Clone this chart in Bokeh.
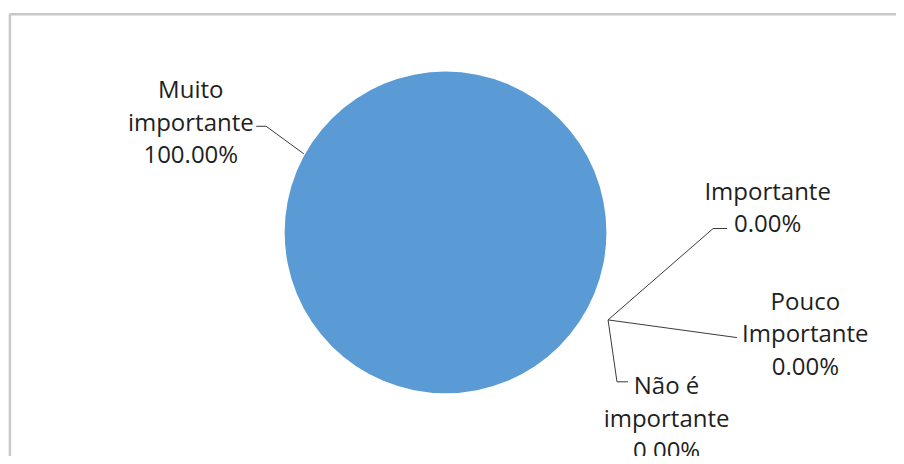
import numpy as np
from bokeh.plotting import figure
from bokeh.models import Range1d
from bokeh.embed import file_html
from bokeh.resources import INLINE
from bokeh.core.properties import value

# ---- data ----
categories = ["Muito importante", "Importante", "Pouco Importante", "Não é importante"]
values = [100.0, 0.0, 0.0, 0.0]
label_lines = [["Muito", "importante"], ["Importante"], ["Pouco", "Importante"], ["Não é", "importante"]]
pie_color = "#5B9BD5"

# ---- layout (reference pixel coordinates, scaled into the figure) ----
W, H = 896, 456
SX, SY = W / 904.0, H / 464.0


def P(px, py):
    return px * SX, H - py * SY


center_px = (449, 236)
radius = 163 * (SX + SY) / 2
label_centers = [(192, 90), (774, 193), (812, 305), (672, 391)]
line_gap = 33
leaders = [
    [(258, 128), (268, 128), (306, 156)],
    [(733, 232), (719, 232), (613, 325)],
    [(743, 343), (613, 325)],
    [(633, 388), (622, 388), (613, 325)],
]
FONT = "Open Sans"
TEXT_COLOR = "#1f1f1f"

p = figure(width=W, height=H, x_range=Range1d(0, W), y_range=Range1d(0, H),
           output_backend="svg", toolbar_location=None, min_border=0,
           x_axis_location=None, y_axis_location=None)
p.grid.visible = False
p.outline_line_color = None
p.background_fill_color = "white"
p.border_fill_color = "white"

# chart border (top/left visible, rest cropped)
bx, by = P(9.5, 14)
p.quad(left=[bx], right=[W + 60], top=[by], bottom=[-60], fill_color=None,
       line_color="#c8c8c8", line_width=2.5)

# pie wedges
total = sum(values)
fr = np.array(values) / total
cum = np.concatenate([[0], np.cumsum(fr)])
starts = np.pi / 2 - 2 * np.pi * cum[:-1]
ends = np.pi / 2 - 2 * np.pi * cum[1:]
cx, cy = P(*center_px)
for s, e, f in zip(starts, ends, fr):
    if f <= 0:
        continue
    if f >= 0.999999:
        p.circle(x=[cx], y=[cy], radius=radius, fill_color=pie_color, line_color=None)
    else:
        p.wedge(x=[cx], y=[cy], radius=radius, start_angle=[s], end_angle=[e],
                direction="clock", fill_color=pie_color, line_color="white")

# leader lines
for pts in leaders:
    xs, ys = zip(*[P(*q) for q in pts])
    p.line(list(xs), list(ys), line_color="#3a3a3a", line_width=1)

# labels
tx, ty, tt = [], [], []
for lines, v, (lx, ly) in zip(label_lines, fr, label_centers):
    all_lines = lines + [f"{v * 100:.2f}%"]
    for i, s in enumerate(all_lines):
        x, y = P(lx, ly + i * line_gap)
        tx.append(x)
        ty.append(y)
        tt.append(s)
p.text(x=tx, y=ty, text=tt, text_align="center", text_baseline="middle",
       text_font=value(FONT), text_font_size="24px", text_color=TEXT_COLOR)

open("out.html", "w").write(file_html(p, INLINE))
